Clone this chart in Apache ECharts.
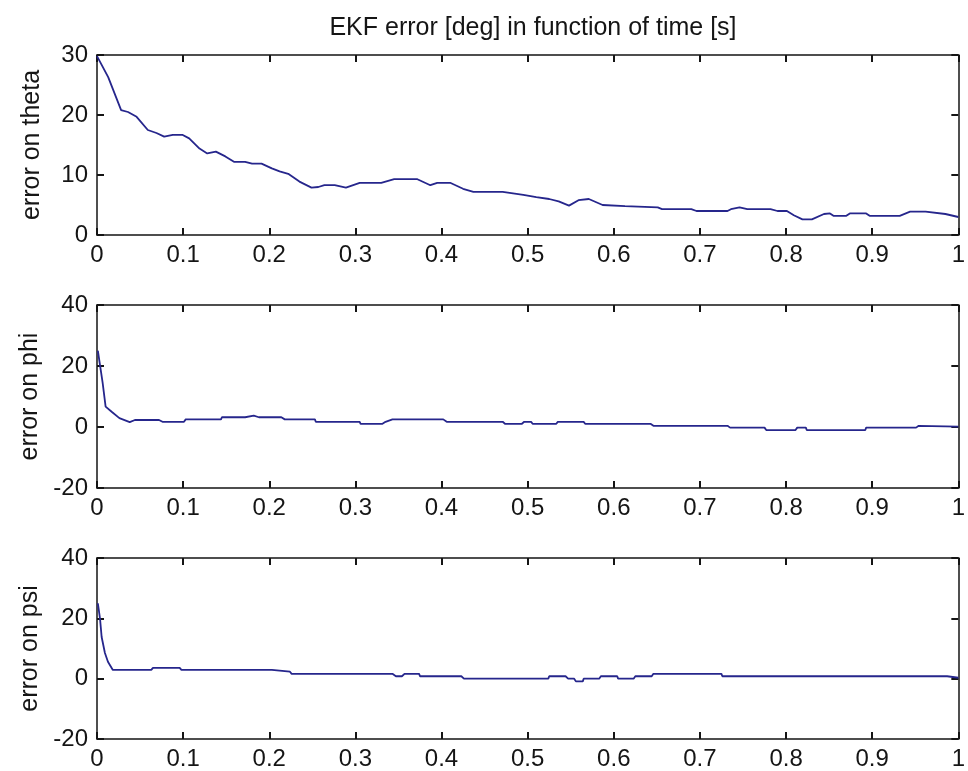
<!DOCTYPE html>
<html>
<head>
<meta charset="utf-8">
<script src="https://cdn.jsdelivr.net/npm/echarts@6/dist/echarts.min.js"></script>
<style>
html,body{margin:0;padding:0;background:#fff;}
#chart{width:968px;height:771px;}
</style>
</head>
<body>
<div id="chart"></div>
<script>
const titleText = 'EKF error [deg] in function of time [s]';
const yNames = ['error on theta', 'error on phi', 'error on psi'];

const thetaX = [0, 0.013, 0.028, 0.036, 0.046, 0.059, 0.069, 0.078, 0.088, 0.099, 0.107, 0.119, 0.128, 0.138, 0.149, 0.159, 0.172, 0.180, 0.191, 0.203, 0.212, 0.222, 0.235, 0.249, 0.257, 0.264, 0.276, 0.289, 0.305, 0.330, 0.345, 0.372, 0.387, 0.395, 0.410, 0.425, 0.437, 0.471, 0.495, 0.510, 0.525, 0.536, 0.548, 0.559, 0.571, 0.587, 0.613, 0.651, 0.656, 0.690, 0.696, 0.732, 0.736, 0.746, 0.755, 0.782, 0.790, 0.801, 0.809, 0.819, 0.830, 0.844, 0.851, 0.855, 0.870, 0.874, 0.893, 0.897, 0.932, 0.944, 0.962, 0.985, 1.0];
const thetaY = [29.8, 26.3, 20.8, 20.5, 19.7, 17.5, 17.0, 16.4, 16.7, 16.7, 16.1, 14.4, 13.6, 13.9, 13.1, 12.2, 12.2, 11.9, 11.9, 11.1, 10.6, 10.2, 8.9, 7.9, 8.0, 8.3, 8.3, 7.9, 8.7, 8.7, 9.3, 9.3, 8.3, 8.7, 8.7, 7.7, 7.2, 7.2, 6.7, 6.3, 6.0, 5.6, 4.9, 5.8, 6.0, 5.0, 4.8, 4.6, 4.3, 4.3, 4.0, 4.0, 4.3, 4.6, 4.3, 4.3, 4.0, 4.0, 3.3, 2.6, 2.6, 3.5, 3.6, 3.2, 3.2, 3.6, 3.6, 3.2, 3.2, 3.9, 3.9, 3.5, 3.0];

const phiX = [0.001, 0.0035, 0.0066, 0.010, 0.017, 0.026, 0.038, 0.044, 0.072, 0.076, 0.101, 0.103, 0.144, 0.145, 0.172, 0.182, 0.188, 0.214, 0.218, 0.253, 0.254, 0.305, 0.306, 0.331, 0.335, 0.343, 0.402, 0.406, 0.471, 0.474, 0.493, 0.496, 0.504, 0.506, 0.533, 0.535, 0.565, 0.567, 0.643, 0.646, 0.732, 0.735, 0.775, 0.777, 0.811, 0.813, 0.823, 0.824, 0.892, 0.893, 0.951, 0.954, 1.0];
const phiY = [25, 20.3, 14.4, 6.7, 5.0, 2.9, 1.6, 2.3, 2.3, 1.7, 1.7, 2.5, 2.5, 3.2, 3.2, 3.7, 3.2, 3.2, 2.5, 2.5, 1.7, 1.7, 1.0, 1.0, 1.7, 2.5, 2.5, 1.7, 1.7, 1.0, 1.0, 1.7, 1.7, 1.0, 1.0, 1.7, 1.7, 1.0, 1.0, 0.4, 0.4, -0.2, -0.2, -1.0, -1.0, -0.2, -0.2, -1.0, -1.0, -0.2, -0.2, 0.4, 0.1];

const psiX = [0.001, 0.0035, 0.0054, 0.0092, 0.0127, 0.0184, 0.063, 0.065, 0.096, 0.098, 0.203, 0.205, 0.224, 0.226, 0.343, 0.347, 0.354, 0.357, 0.374, 0.375, 0.423, 0.426, 0.524, 0.525, 0.544, 0.547, 0.554, 0.556, 0.564, 0.565, 0.583, 0.585, 0.604, 0.605, 0.623, 0.625, 0.644, 0.646, 0.725, 0.726, 0.987, 0.989, 1.0];
const psiY = [25, 19.9, 13.8, 8.5, 5.6, 2.9, 2.9, 3.6, 3.6, 2.9, 2.9, 2.3, 2.3, 1.6, 1.6, 0.8, 0.8, 1.6, 1.6, 0.8, 0.8, 0, 0, 0.8, 0.8, 0, 0, -0.9, -0.9, 0, 0, 0.8, 0.8, 0, 0, 0.8, 0.8, 1.6, 1.6, 0.8, 0.8, 0.4, 0.3];

const yRanges = [[0, 30, 10], [-20, 40, 20], [-20, 40, 20]];
const xRange = [0, 1, 0.1];

const seriesXs = [thetaX, phiX, psiX];
const seriesYs = [thetaY, phiY, psiY];

const FONT = "'Liberation Sans', Arial, sans-serif";
const INK = '#151515';
const LINE = '#26268c';

const gridTops = [55, 305, 558];
const gridHeights = [180, 183, 184];

const ls = () => ({color: INK, width: 1.5});
const ts = () => ({color: INK, width: 2});
const fmtX = v => String(+v.toFixed(1));

const grids = [], xAxes = [], yAxes = [], series = [];
for (let i = 0; i < 3; i++) {
  grids.push({left: 97, right: 2, top: gridTops[i], height: gridHeights[i]});
  const r = yRanges[i];
  xAxes.push({
    type: 'value', gridIndex: i, position: 'bottom', min: xRange[0], max: xRange[1], interval: xRange[2],
    axisLine: {show: true, onZero: false, lineStyle: ls()},
    axisTick: {inside: true, length: 7, lineStyle: ts()},
    axisLabel: {show: true, color: INK, fontFamily: FONT, fontSize: 24, margin: 8, formatter: fmtX},
    splitLine: {show: false}
  });
  xAxes.push({
    type: 'value', gridIndex: i, position: 'top', min: xRange[0], max: xRange[1], interval: xRange[2],
    axisLine: {show: true, onZero: false, lineStyle: ls()},
    axisTick: {inside: true, length: 7, lineStyle: ts()},
    axisLabel: {show: false},
    splitLine: {show: false}
  });
  yAxes.push({
    type: 'value', gridIndex: i, position: 'left', min: r[0], max: r[1], interval: r[2],
    name: yNames[i], nameLocation: 'middle', nameRotate: 90, nameGap: 52,
    nameTextStyle: {color: INK, fontFamily: FONT, fontSize: 25},
    axisLine: {show: true, onZero: false, lineStyle: ls()},
    axisTick: {show: true, inside: true, length: 7, lineStyle: ts()},
    axisLabel: {show: true, color: INK, fontFamily: FONT, fontSize: 24, margin: 9},
    splitLine: {show: false}
  });
  yAxes.push({
    type: 'value', gridIndex: i, position: 'right', min: r[0], max: r[1], interval: r[2],
    axisLine: {show: true, onZero: false, lineStyle: ls()},
    axisTick: {show: true, inside: true, length: 7, lineStyle: ts()},
    axisLabel: {show: false},
    splitLine: {show: false}
  });
}
for (let i = 0; i < 3; i++) {
  const xs = seriesXs[i], ys = seriesYs[i];
  series.push({
    type: 'line', xAxisIndex: 2 * i, yAxisIndex: 2 * i, showSymbol: false,
    data: xs.map((x, k) => [x, ys[k]]),
    lineStyle: {color: LINE, width: 1.8}
  });
  series.push({
    type: 'line', xAxisIndex: 2 * i + 1, yAxisIndex: 2 * i + 1, showSymbol: false, silent: true,
    data: [], lineStyle: {opacity: 0}
  });
}

const chart = echarts.init(document.getElementById('chart'), null, {renderer: 'canvas'});
chart.setOption({
  animation: false,
  backgroundColor: '#ffffff',
  title: {
    text: titleText, left: 528, top: 11, textAlign: 'center',
    textStyle: {color: INK, fontFamily: FONT, fontSize: 25, fontWeight: 'normal'}
  },
  grid: grids, xAxis: xAxes, yAxis: yAxes, series: series
});
</script>
</body>
</html>
